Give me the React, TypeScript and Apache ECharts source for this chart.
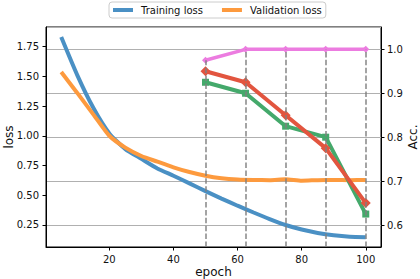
import React, { useEffect, useRef } from "react";
import * as echarts from "echarts";

// ---- data ----
const EPOCHS = [5, 10, 15, 20, 25, 30, 35, 40, 45, 50, 55, 60, 65, 70, 75, 80, 85, 90, 95, 100];
const TRAIN_LOSS = [1.83, 1.51, 1.235, 1.02, 0.888, 0.806, 0.725, 0.664, 0.6, 0.535, 0.472, 0.412, 0.355, 0.3, 0.25, 0.212, 0.183, 0.163, 0.151, 0.147];
const VAL_LOSS = [1.536, 1.36, 1.18, 1.0, 0.9, 0.83, 0.782, 0.735, 0.695, 0.664, 0.643, 0.632, 0.628, 0.627, 0.634, 0.622, 0.627, 0.629, 0.627, 0.628];
const EVAL_EPOCHS = [50, 62.5, 75, 87.5, 100];
const ACC_PINK = [0.975, 1.0, 1.0, 1.0, 1.0];
const ACC_RED = [0.95, 0.925, 0.85, 0.775, 0.65];
const ACC_GREEN = [0.925, 0.9, 0.825, 0.8, 0.625];

const X_MIN = 0.25;
const X_MAX = 104.75;
const LOSS_MIN = 0.065;
const LOSS_MAX = 1.914;
const ACC_MIN = 0.55;
const ACC_MAX = 1.0508;

const FONT = "DejaVu Sans";
const TXT = "#111111";

export default function App() {
  const ref = useRef<HTMLDivElement>(null);

  useEffect(() => {
    if (!ref.current) return;
    const chart = echarts.init(ref.current, undefined, { renderer: "svg" });

    const lossPts = (vals: number[]) => EPOCHS.map((e, i) => [e, vals[i]]);
    const accPts = (vals: number[]) => EVAL_EPOCHS.map((e, i) => [e, vals[i]]);
    const guideTops = EVAL_EPOCHS.map((e, i) => Math.max(ACC_PINK[i], ACC_RED[i], ACC_GREEN[i]));

    const axisCommon = {
      axisLine: { show: true, lineStyle: { color: "#000", width: 1 } },
      axisTick: { show: true, length: 3.5, lineStyle: { color: "#000", width: 1 } },
      nameMoveOverlap: false,
    };

    const option: any = {
      animation: false,
      textStyle: { fontFamily: FONT },
      legend: {
        data: ["Training loss", "Validation loss"],
        left: 109,
        top: 2,
        padding: [3, 4, 3, 4],
        itemWidth: 20,
        itemHeight: 4,
        itemGap: 19,
        icon: "rect",
        borderColor: "#cccccc",
        borderWidth: 1,
        borderRadius: 3,
        backgroundColor: "#ffffff",
        textStyle: { fontSize: 10, color: TXT, fontFamily: FONT, padding: [0, 0, 0, 3] },
        selectedMode: false,
      },
      grid: {
        left: 46,
        right: 39,
        top: 27,
        bottom: 32,
        containLabel: false,
        outerBoundsMode: "none",
        show: true,
        borderColor: "#000",
        borderWidth: 1,
        backgroundColor: "transparent",
      },
      xAxis: {
        type: "value",
        min: X_MIN,
        max: X_MAX,
        minInterval: 20,
        maxInterval: 20,
        ...axisCommon,
        axisLabel: { showMinLabel: false, showMaxLabel: false, fontSize: 10, color: TXT, margin: 7, fontFamily: FONT },
        splitLine: { show: false },
        name: "epoch",
        nameLocation: "middle",
        nameGap: 19,
        nameTextStyle: { fontSize: 12, color: TXT, fontFamily: FONT },
      },
      yAxis: [
        {
          type: "value",
          position: "left",
          min: LOSS_MIN,
          max: LOSS_MAX,
          minInterval: 0.25,
          maxInterval: 0.25,
          ...axisCommon,
          axisLabel: {
            showMinLabel: false,
            showMaxLabel: false,
            fontSize: 10,
            color: TXT,
            margin: 7,
            fontFamily: FONT,
            formatter: (v: number) => v.toFixed(2),
          },
          splitLine: { show: false },
          name: "loss",
          nameLocation: "middle",
          nameRotate: 90,
          nameGap: 31,
          nameTextStyle: { fontSize: 12, color: TXT, fontFamily: FONT },
        },
        {
          type: "value",
          position: "right",
          min: ACC_MIN,
          max: ACC_MAX,
          minInterval: 0.1,
          maxInterval: 0.1,
          ...axisCommon,
          axisLabel: {
            showMinLabel: false,
            showMaxLabel: false,
            fontSize: 10,
            color: TXT,
            margin: 6,
            fontFamily: FONT,
            formatter: (v: number) => v.toFixed(1),
          },
          splitLine: { show: true, lineStyle: { color: "#b0b0b0", width: 1 } },
          name: "Acc.",
          nameLocation: "middle",
          nameRotate: 90,
          nameGap: 26,
          nameTextStyle: { fontSize: 12, color: TXT, fontFamily: FONT },
        },
      ],
      series: [
        {
          name: "guides",
          type: "line",
          yAxisIndex: 1,
          data: EVAL_EPOCHS.map((e, i) => [e, guideTops[i]]),
          showSymbol: false,
          symbol: "none",
          lineStyle: { opacity: 0 },
          silent: true,
          z: 1,
          markLine: {
            silent: true,
            symbol: ["none", "none"],
            label: { show: false },
            lineStyle: { color: "#808080", type: [5.5, 2.4], width: 1.5, opacity: 0.95 },
            emphasis: { disabled: true },
            data: EVAL_EPOCHS.map((e, i) => [{ coord: [e, ACC_MIN] }, { coord: [e, guideTops[i]] }]),
          },
        },
        {
          name: "Training loss",
          type: "line",
          yAxisIndex: 0,
          data: lossPts(TRAIN_LOSS),
          showSymbol: false,
          symbol: "none",
          smooth: 0.2,
          color: "#4a90c4",
          lineStyle: { width: 4, color: "#4a90c4" },
          silent: true,
          z: 2,
        },
        {
          name: "Validation loss",
          type: "line",
          yAxisIndex: 0,
          data: lossPts(VAL_LOSS),
          showSymbol: false,
          symbol: "none",
          smooth: 0.2,
          color: "#fd9a3e",
          lineStyle: { width: 4, color: "#fd9a3e" },
          silent: true,
          z: 2,
        },
        {
          name: "Acc green",
          type: "line",
          yAxisIndex: 1,
          data: accPts(ACC_GREEN),
          symbol: "rect",
          symbolSize: 7,
          showSymbol: true,
          color: "#44a96b",
          itemStyle: { color: "#44a96b" },
          lineStyle: { width: 4, color: "#44a96b" },
          silent: true,
          z: 3,
        },
        {
          name: "Acc red",
          type: "line",
          yAxisIndex: 1,
          data: accPts(ACC_RED),
          symbol: "diamond",
          symbolSize: 10,
          showSymbol: true,
          color: "#e2553f",
          itemStyle: { color: "#e2553f" },
          lineStyle: { width: 4, color: "#e2553f" },
          silent: true,
          z: 4,
        },
        {
          name: "Acc pink",
          type: "line",
          yAxisIndex: 1,
          data: accPts(ACC_PINK),
          symbol: "diamond",
          symbolSize: 7,
          showSymbol: true,
          color: "#ec7ce0",
          itemStyle: { color: "#ec7ce0" },
          lineStyle: { width: 3.5, color: "#ec7ce0" },
          silent: true,
          z: 4,
        },
      ],
    };

    chart.setOption(option);
    return () => chart.dispose();
  }, []);

  return (
    <div
      ref={ref}
      style={{ position: "absolute", left: 0, top: 0, width: 420, height: 279, background: "#fff" }}
    />
  );
}
